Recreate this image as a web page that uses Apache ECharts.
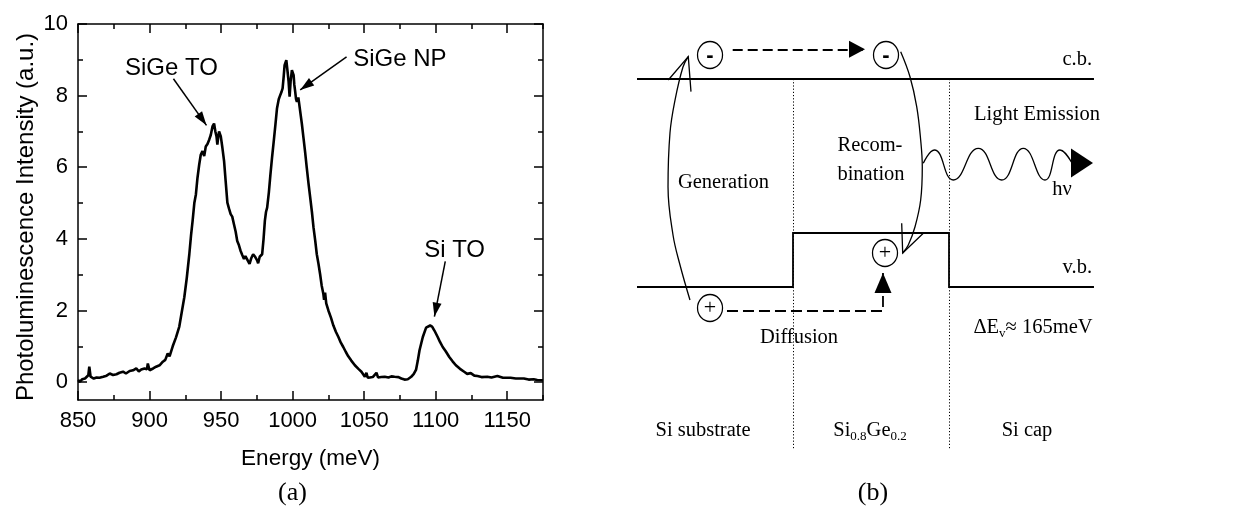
<!DOCTYPE html>
<html><head><meta charset="utf-8">
<script src="https://cdn.jsdelivr.net/npm/echarts@6/dist/echarts.min.js"></script>
<style>html,body{margin:0;padding:0;background:#fff}#c{width:1253px;height:508px}</style>
</head><body><div id="c"></div>
<script>
// ---------- Panel (a): photoluminescence spectrum ----------
const energy = [850,851.4,853,854.9,857.2,857.9,858.8,861,863,865,867.6,870,872.2,874.5,876.9,879,881.5,883.5,886.1,888.5,890.7,892.5,894.2,896.5,898.2,898.8,900,902.5,904.6,907,909.3,911,912.7,914,916.2,918.5,920.8,922.5,924.3,926,927.8,929,930.1,931.3,932.4,933.5,934.7,935.8,937,938.2,939.3,940.5,941.7,942.8,944,945.1,946,946.8,947.4,948,948.6,949.8,950.9,952.1,953.2,954.4,955.5,956.7,957.8,959,960.2,961.3,962.5,963.6,964.8,966,967,968.3,969.9,971,972.4,973.8,975.2,975.9,977,978.7,979.7,980.6,981.4,982.2,983.4,984.5,985.7,986.8,988,989.1,990.3,991.4,992.2,993,993.7,994.4,995.6,996.4,997.2,997.9,998.6,999.5,1000.7,1001.2,1001.8,1002.4,1003,1004,1005.3,1006.5,1007.6,1008.8,1009.9,1011.1,1012.3,1013.5,1014.6,1015.8,1016.9,1018.1,1019.2,1020.3,1021.5,1022,1022.7,1023.5,1025,1026.8,1028.5,1030.3,1032,1033.7,1035.4,1037.2,1038.9,1041,1043.5,1046,1048.1,1050.5,1051.6,1052.5,1054,1056,1058.6,1059.7,1062,1064.4,1067,1069,1071.3,1074,1076,1078.2,1080.5,1082.9,1084.6,1086.3,1087.5,1088.7,1090,1091,1093.3,1096.1,1097.5,1099.1,1101.4,1103,1104.9,1107,1109.5,1111.8,1114.1,1117,1119.9,1122,1124.5,1127,1129.2,1132,1136.1,1139,1143.1,1147,1152.3,1156,1161.6,1165,1168.5,1171,1175];
const intensity = [0.06,0.01,0.08,0.1,0.19,0.43,0.15,0.1,0.13,0.12,0.15,0.18,0.24,0.2,0.22,0.26,0.29,0.24,0.31,0.33,0.38,0.3,0.35,0.38,0.36,0.52,0.33,0.38,0.43,0.47,0.57,0.62,0.8,0.72,1.0,1.25,1.55,1.95,2.37,2.9,3.57,4.1,4.5,5.0,5.24,5.7,6.07,6.35,6.45,6.31,6.58,6.65,6.77,6.9,7.14,7.22,7.0,6.86,6.63,6.85,7.0,6.86,6.55,6.17,5.61,5.01,4.85,4.69,4.62,4.41,4.2,3.94,3.82,3.67,3.55,3.44,3.52,3.48,3.3,3.45,3.57,3.5,3.4,3.32,3.5,3.57,4.0,4.5,4.75,4.87,5.3,5.8,6.3,6.72,7.2,7.65,7.9,8.02,8.1,8.2,8.5,8.85,8.99,8.7,8.39,7.97,8.4,8.71,8.57,8.3,8.11,7.9,7.83,7.95,7.56,7.2,6.82,6.4,5.98,5.55,5.15,4.75,4.32,3.95,3.57,3.3,3.02,2.7,2.46,2.3,2.5,2.2,2.0,1.8,1.58,1.4,1.26,1.1,0.98,0.84,0.72,0.6,0.47,0.37,0.29,0.15,0.26,0.12,0.13,0.14,0.26,0.13,0.14,0.15,0.13,0.16,0.15,0.14,0.1,0.07,0.08,0.15,0.22,0.35,0.6,0.89,1.1,1.26,1.52,1.58,1.55,1.44,1.26,1.12,0.98,0.86,0.7,0.58,0.47,0.37,0.29,0.23,0.25,0.18,0.17,0.14,0.15,0.13,0.17,0.12,0.12,0.1,0.1,0.07,0.08,0.06,0.05];
const xMajorTicks = [850,900,950,1000,1050,1100,1150];
const xMinorTicks = [875,925,975,1025,1075,1125,1175];
const yMajorTicks = [0,2,4,6,8,10];
const yMinorTicks = [1,3,5,7,9];
const peakLabels = ['SiGe TO','SiGe NP','Si TO'];
const peakLabelPos = [[915.3,8.75],[1075,9.0],[1113.2,3.67]];
const peakArrowFrom = [[916.7,8.47],[1037.7,9.08],[1106.7,3.37]];
const peakArrowTip = [[939.8,7.17],[1005.3,8.16],[1099.1,1.83]];

// ---------- Panel (b): band diagram (schematic units 0..100) ----------
const bandCB = [[8.47,84.45],[76.37,84.45]];
const bandVB = [[8.47,43.5],[31.65,43.5],[31.65,54.13],[54.83,54.13],[54.83,43.5],[76.37,43.5]];
const interfaceX = [31.65,54.83];
const interfaceY = [84.45,11.42];
const electrons = [[19.32,89.17],[45.47,89.17]];
const holes = [[19.32,39.37],[45.32,50.2]];
const electronDrift = [[22.69,90.3],[42.35,90.3]];
const holeDiffusion = [[21.84,38.78],[45.02,38.78],[45.02,46.26]];
const generationPath = [[16.34,40.94],[14.86,47.83],[13.82,53.74],[13.08,63.19],[13.37,73.82],[14.12,80.31],[15.30,86.81],[16.09,88.84]];
const generationHead = [[13.12,84.25],[16.09,88.84],[16.49,81.97]];
const recombinationPath = [[47.65,89.82],[49.03,84.90],[50.03,79.0],[50.62,72.44],[50.86,67.19],[50.62,60.63],[49.78,55.37],[48.78,51.77],[47.95,50.2]];
const recombinationHead = [[47.80,56.04],[47.95,50.2],[51.01,54.07]];
const photonWave = [[51.01,67.85],[52.65,70.47],[55.47,64.57],[59.18,70.81],[62.66,64.57],[65.87,70.81],[69.09,64.57],[71.32,70.47],[73.11,67.91]];
const photonArrow = [[73.11,67.91],[76.23,67.91]];
const diagramTexts = ['c.b.','v.b.','Light Emission','h\u03bd','Recom-','bination','Generation','{n|\u0394E}{s|v}{n|\u2248 165meV}','Diffusion','Si substrate','{n|Si}{s|0.8}{n|Ge}{s|0.2}','Si cap'];
const diagramTextPos = [[76.08,88.19],[76.08,47.24],[67.90,77.36],[71.62,62.6],[43.09,71.26],[43.24,65.55],[21.32,63.98],[67.31,35.43],[32.54,33.46],[18.28,15.16],[43.09,15.16],[66.42,15.16]];
const diagramTextAlign = ['right','right','center','center','center','center','center','center','center','center','center','center'];
const captions = ['(a)','(b)'];

// ---------- styles ----------
const BLACK = '#000';
const SANS = 'Liberation Sans';
const SERIF = 'Liberation Serif';
const axLine = {show:true, onZero:false, lineStyle:{color:BLACK, width:1.5}};
const headSizesA = [[9,14],[9,14],[9,14]];
const headSizesB = [[17,16],[17,20],[29,22]];
const plain = v => String(v);

function xAx(grid, pos, ticks, len, showLine, labels, extra) {
  return Object.assign({
    type:'value', gridIndex:grid, position:pos, min:850, max:1175,
    axisLine: showLine ? axLine : {show:false, onZero:false},
    axisTick:{show:true, inside:true, length:len, customValues:ticks, lineStyle:{color:BLACK, width:1.5}},
    axisLabel: labels ? {show:true, customValues:ticks, formatter:plain, margin:10, fontSize:22, fontFamily:SANS, color:BLACK} : {show:false},
    splitLine:{show:false}
  }, extra || {});
}
function yAx(grid, pos, ticks, len, showLine, labels, extra) {
  return Object.assign({
    type:'value', gridIndex:grid, position:pos, min:-0.5, max:10,
    axisLine: showLine ? axLine : {show:false, onZero:false},
    axisTick:{show:true, inside:true, length:len, customValues:ticks, lineStyle:{color:BLACK, width:1.5}},
    axisLabel: labels ? {show:true, customValues:ticks, formatter:plain, margin:10, fontSize:22, fontFamily:SANS, color:BLACK} : {show:false},
    splitLine:{show:false}
  }, extra || {});
}

const chart = echarts.init(document.getElementById('c'), null, {renderer:'canvas'});

const option = {
  animation:false,
  backgroundColor:'#fff',
  grid:[
    {left:78, top:24, width:465, height:376, outerBoundsMode:'none', containLabel:false},
    {left:78, top:24, width:465, height:376, outerBoundsMode:'none', containLabel:false},
    {left:580, top:0, width:673, height:508, outerBoundsMode:'none', containLabel:false}
  ],
  xAxis:[
    xAx(0,'bottom',xMajorTicks,9,true,true,{name:'Energy (meV)', nameLocation:'middle', nameGap:47, nameMoveOverlap:false,
        nameTextStyle:{fontSize:22.5, fontFamily:SANS, color:BLACK}}),
    xAx(0,'top',xMajorTicks,9,true,false),
    xAx(1,'bottom',xMinorTicks,5,false,false),
    xAx(1,'top',xMinorTicks,5,false,false),
    {type:'value', gridIndex:2, min:0, max:100, show:false}
  ],
  yAxis:[
    yAx(0,'left',yMajorTicks,9,true,true,{name:'Photoluminescence Intensity (a.u.)', nameLocation:'middle', nameGap:40, nameMoveOverlap:false,
        nameTextStyle:{fontSize:24, fontFamily:SANS, color:BLACK, padding:[0,10,0,0]}}),
    yAx(0,'right',yMajorTicks,9,true,false),
    yAx(1,'left',yMinorTicks,5,false,false),
    yAx(1,'right',yMinorTicks,5,false,false),
    {type:'value', gridIndex:2, min:0, max:100, show:false}
  ],
  graphic:[
    {type:'text', x:292.5, y:493, style:{text:captions[0], font:'26px "Liberation Serif"', fill:BLACK, align:'center', verticalAlign:'middle', textAlign:'center', textVerticalAlign:'middle'}},
    {type:'text', x:873, y:493, style:{text:captions[1], font:'26px "Liberation Serif"', fill:BLACK, align:'center', verticalAlign:'middle', textAlign:'center', textVerticalAlign:'middle'}}
  ],
  series:[
    {type:'line', xAxisIndex:0, yAxisIndex:0, data:energy.map((e,i)=>[e,intensity[i]]), symbol:'none', showSymbol:false,
      lineStyle:{color:BLACK, width:2.6}, z:3},
    {type:'scatter', xAxisIndex:0, yAxisIndex:0, symbolSize:0, data:peakLabelPos.map((p,i)=>({value:p, name:peakLabels[i]})),
      itemStyle:{opacity:1}, label:{show:true, position:'inside', formatter:'{b}', fontSize:24, fontFamily:SANS, color:BLACK}},
    {type:'lines', coordinateSystem:'cartesian2d', xAxisIndex:0, yAxisIndex:0, symbol:'none',
      data:peakArrowFrom.map((f,i)=>({coords:[f, peakArrowTip[i]]})), lineStyle:{color:BLACK, width:1.5, opacity:1}},
    {id:'headsA', type:'scatter', xAxisIndex:0, yAxisIndex:0, symbol:'triangle', data:[], itemStyle:{color:BLACK, opacity:1}, z:5},

    // diagram
    {type:'lines', coordinateSystem:'cartesian2d', xAxisIndex:4, yAxisIndex:4, polyline:true, symbol:'none',
      data:[{coords:bandCB},{coords:bandVB}], lineStyle:{color:BLACK, width:1.8, opacity:1}},
    {type:'lines', coordinateSystem:'cartesian2d', xAxisIndex:4, yAxisIndex:4, symbol:'none',
      data:interfaceX.map(x=>({coords:[[x,interfaceY[0]],[x,interfaceY[1]]]})), lineStyle:{color:BLACK, width:1, type:[1.2,2], opacity:1}},
    {type:'lines', coordinateSystem:'cartesian2d', xAxisIndex:4, yAxisIndex:4, symbol:'none',
      data:[{coords:electronDrift}], lineStyle:{color:BLACK, width:1.8, type:[10,5], opacity:1}},
    {type:'lines', coordinateSystem:'cartesian2d', xAxisIndex:4, yAxisIndex:4, polyline:true, symbol:'none',
      data:[{coords:holeDiffusion}], lineStyle:{color:BLACK, width:1.8, type:[11,5], opacity:1}},
    {type:'line', xAxisIndex:4, yAxisIndex:4, data:generationPath, smooth:0.4, symbol:'none', showSymbol:false, lineStyle:{color:BLACK, width:1.3}},
    {type:'line', xAxisIndex:4, yAxisIndex:4, data:recombinationPath, smooth:0.4, symbol:'none', showSymbol:false, lineStyle:{color:BLACK, width:1.3}},
    {type:'lines', coordinateSystem:'cartesian2d', xAxisIndex:4, yAxisIndex:4, polyline:true, symbol:'none',
      data:[{coords:generationHead},{coords:recombinationHead}], lineStyle:{color:BLACK, width:1.3, opacity:1}},
    {type:'line', xAxisIndex:4, yAxisIndex:4, data:photonWave, smooth:0.5, symbol:'none', showSymbol:false, lineStyle:{color:BLACK, width:1.3}},
    {type:'scatter', xAxisIndex:4, yAxisIndex:4, symbol:'circle', symbolSize:[25,27], data:electrons, z:4,
      itemStyle:{color:'#fff', borderColor:BLACK, borderWidth:1.3, opacity:1},
      label:{show:true, position:'inside', formatter:'-', fontFamily:SANS, fontWeight:'bold', fontSize:22, color:BLACK, offset:[0,1]}},
    {type:'scatter', xAxisIndex:4, yAxisIndex:4, symbol:'circle', symbolSize:[25,27], data:holes, z:4,
      itemStyle:{color:'#fff', borderColor:BLACK, borderWidth:1.3, opacity:1},
      label:{show:true, position:'inside', formatter:'+', fontFamily:SERIF, fontSize:22, color:BLACK}},
    {type:'scatter', xAxisIndex:4, yAxisIndex:4, symbolSize:0, z:6, itemStyle:{opacity:1},
      data:diagramTextPos.map((p,i)=>({value:p, name:diagramTexts[i], label:{align:diagramTextAlign[i]}})),
      label:{show:true, position:'inside', formatter:'{b}', fontFamily:SERIF, fontSize:20.5, color:BLACK,
        rich:{n:{fontFamily:SERIF, fontSize:20.5, lineHeight:24, color:BLACK}, s:{fontFamily:SERIF, fontSize:13, lineHeight:13, verticalAlign:'bottom', color:BLACK}}}},
    {id:'headsB', type:'scatter', xAxisIndex:4, yAxisIndex:4, symbol:'triangle', data:[], itemStyle:{color:BLACK, opacity:1}, z:5}
  ]
};
chart.setOption(option);

function heads(pairs, sizes, axisIdx) {
  const f = {xAxisIndex:axisIdx, yAxisIndex:axisIdx};
  return pairs.map(([tail, tip], i) => {
    const p0 = chart.convertToPixel(f, tail), p1 = chart.convertToPixel(f, tip);
    const dx = p1[0]-p0[0], dy = p1[1]-p0[1], L = Math.hypot(dx, dy);
    const len = sizes[i][1];
    const c = [p1[0]-dx/L*len/2, p1[1]-dy/L*len/2];
    return {value: chart.convertFromPixel(f, c), symbolSize: sizes[i],
            symbolRotate: Math.atan2(-dy, dx)*180/Math.PI - 90};
  });
}
chart.setOption({series:[
  {id:'headsA', data: heads(peakArrowFrom.map((f,i)=>[f, peakArrowTip[i]]), headSizesA, 0)},
  {id:'headsB', data: heads([electronDrift, [holeDiffusion[1], holeDiffusion[2]], photonArrow], headSizesB, 4)}
]});
</script>
</body></html>
